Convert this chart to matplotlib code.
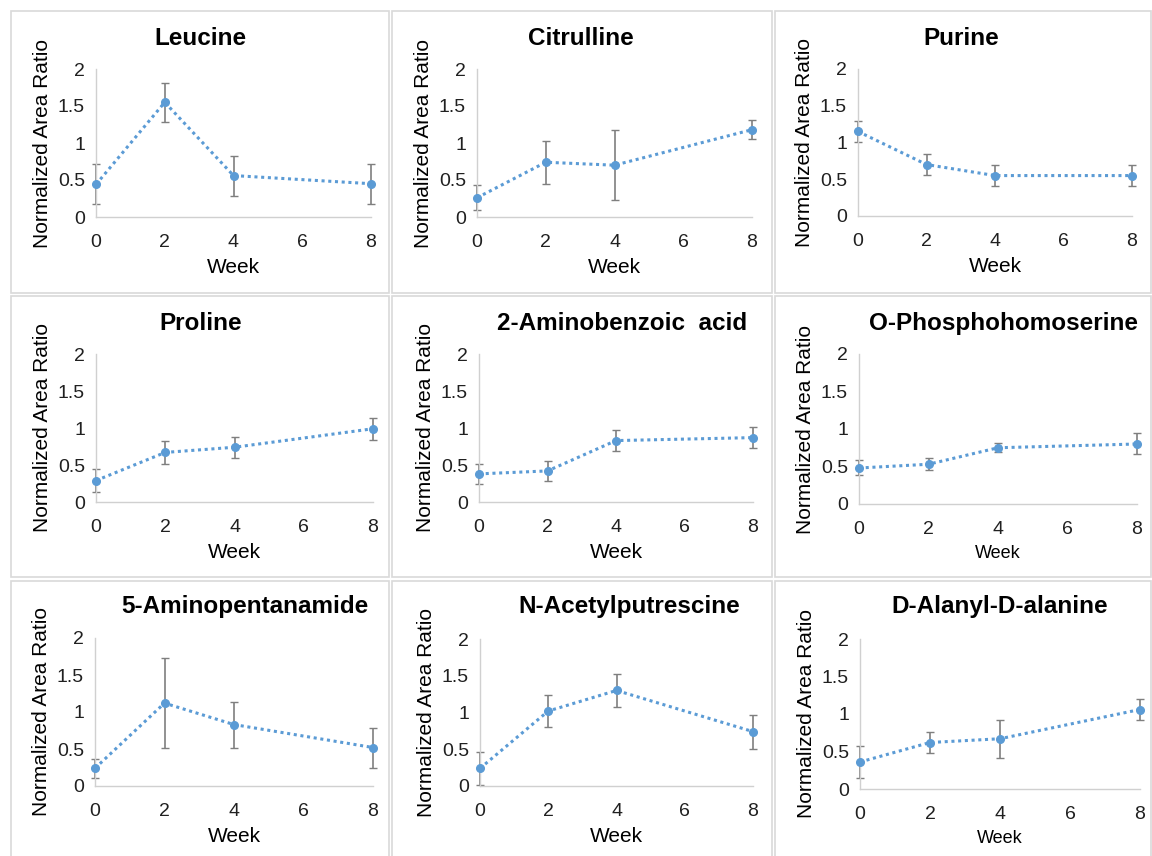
import matplotlib
matplotlib.use("Agg")
import matplotlib.pyplot as plt
from matplotlib.patches import Rectangle

plt.rcParams['font.family'] = ['Liberation Sans', 'DejaVu Sans']

# data
weeks = [0, 2, 4, 8]
week_ticks = [0, 2, 4, 6, 8]
ratio_ticks = [0, 0.5, 1, 1.5, 2]
ratio_labels = ["0", "0.5", "1", "1.5", "2"]

names = ["Leucine", "Citrulline", "Purine",
         "Proline", "2-Aminobenzoic  acid", "O-Phosphohomoserine",
         "5-Aminopentanamide", "N-Acetylputrescine", "D-Alanyl-D-alanine"]

leucine = [0.44, 1.55, 0.56, 0.45]
leucine_err = [0.27, 0.26, 0.27, 0.27]
citrulline = [0.26, 0.74, 0.70, 1.18]
citrulline_err = [0.17, 0.29, 0.47, 0.13]
purine = [1.15, 0.70, 0.55, 0.55]
purine_err = [0.14, 0.14, 0.14, 0.14]
proline = [0.29, 0.67, 0.74, 0.99]
proline_err = [0.15, 0.15, 0.14, 0.15]
aminobenzoic = [0.38, 0.42, 0.83, 0.87]
aminobenzoic_err = [0.13, 0.14, 0.14, 0.14]
phosphohomoserine = [0.48, 0.53, 0.75, 0.80]
phosphohomoserine_err = [0.10, 0.08, 0.06, 0.14]
aminopentanamide = [0.24, 1.12, 0.83, 0.52]
aminopentanamide_err = [0.13, 0.61, 0.31, 0.27]
acetylputrescine = [0.24, 1.02, 1.30, 0.74]
acetylputrescine_err = [0.22, 0.22, 0.22, 0.23]
alanyl = [0.36, 0.62, 0.67, 1.06]
alanyl_err = [0.21, 0.14, 0.25, 0.14]

means = [leucine, citrulline, purine, proline, aminobenzoic,
         phosphohomoserine, aminopentanamide, acetylputrescine, alanyl]
errs = [leucine_err, citrulline_err, purine_err, proline_err, aminobenzoic_err,
        phosphohomoserine_err, aminopentanamide_err, acetylputrescine_err, alanyl_err]

W, H = 1152, 856
# layout in pixels: axes (left, right, y of 0, y of 2)
axes_px = [(96, 371, 217, 69), (477, 752, 217, 69), (858, 1132, 216, 69),
           (96, 373, 502, 354), (479, 753, 502, 354), (859, 1137, 504, 354),
           (95, 373, 786, 638), (480, 753, 786, 639), (860, 1140, 789, 639)]
title_x = [200, 581, 961, 201, 622, 1003, 245, 629, 1000]
title_y = [45, 330, 613]
box_cols = [(11, 389), (392, 772), (775, 1151)]
box_rows = [(11, 293), (296, 577), (581, 875)]
week_size = [15, 15, 15, 15, 15, 13, 15, 15, 13]

blue = "#5B9BD5"
grey = "#7F7F7F"

fig = plt.figure(figsize=(W / 100, H / 100), dpi=100)

for (x0, x1) in box_cols:
    for (y0, y1) in box_rows:
        r = Rectangle((x0 / W, 1 - y1 / H), (x1 - x0) / W, (y1 - y0) / H,
                      transform=fig.transFigure, fill=False,
                      edgecolor="#D9D9D9", linewidth=1.2)
        fig.add_artist(r)

for i in range(9):
    l, r, yb, yt = axes_px[i]
    ax = fig.add_axes([l / W, 1 - yb / H, (r - l) / W, (yb - yt) / H])
    ax.errorbar(weeks, means[i], yerr=errs[i], fmt="none", ecolor=grey,
                elinewidth=1.2, capsize=3, capthick=1.0, clip_on=False, zorder=2)
    ax.plot(weeks, means[i], linestyle=(0, (1, 1.2)), color=blue, linewidth=2.2,
            marker="o", markersize=5.5, clip_on=False, zorder=3)
    ax.set_xlim(0, 8)
    ax.set_ylim(0, 2)
    ax.set_xticks(week_ticks)
    ax.set_yticks(ratio_ticks)
    ax.set_yticklabels(ratio_labels)
    ax.tick_params(length=0, labelsize=14, colors="#202020")
    ax.tick_params(axis="x", pad=12)
    ax.tick_params(axis="y", pad=8)
    for s in ["top", "right"]:
        ax.spines[s].set_visible(False)
    for s in ["left", "bottom"]:
        ax.spines[s].set_color("#D0D0D0")
        ax.spines[s].set_linewidth(1.0)
    ax.set_facecolor("none")
    ax.set_xlabel("Week", fontsize=week_size[i], labelpad=5)
    ax.set_ylabel("Normalized Area Ratio", fontsize=15, labelpad=4)
    fig.text(title_x[i] / W, 1 - title_y[i // 3] / H, names[i],
             fontsize=17.5, fontweight="bold", ha="center", va="baseline")

fig.savefig("out.png", dpi=100)
